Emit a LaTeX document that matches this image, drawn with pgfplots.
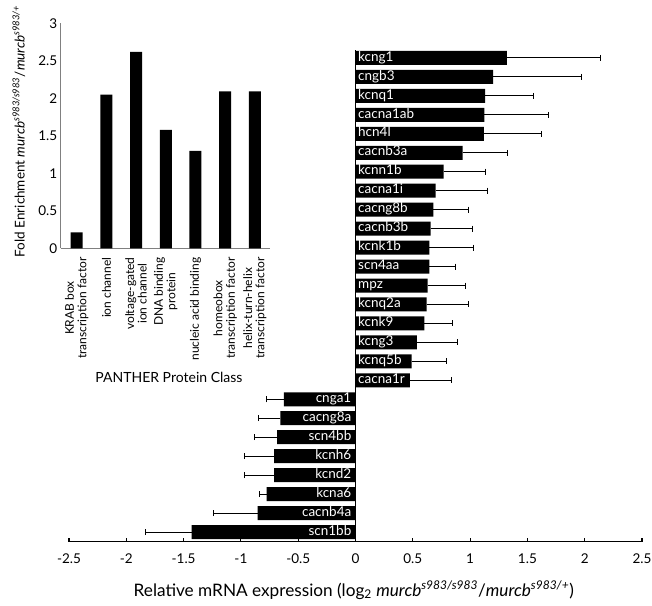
\documentclass[border=0pt]{standalone}
\usepackage{pgfplots}
\pgfplotsset{compat=1.18}
\usepackage{pgfplotstable}
\usepackage{fontspec}
\setmainfont{Lato}

\pgfplotstableread{
y val err name
26 1.32 0.82 kcng1
25 1.20 0.77 cngb3
24 1.13 0.42 kcnq1
23 1.125 0.555 cacna1ab
22 1.12 0.50 hcn4l
21 0.935 0.395 cacnb3a
20 0.77 0.365 kcnn1b
19 0.70 0.45 cacna1i
18 0.68 0.31 cacng8b
17 0.655 0.365 cacnb3b
16 0.645 0.385 kcnk1b
15 0.645 0.225 scn4aa
14 0.63 0.33 mpz
13 0.62 0.37 kcnq2a
12 0.60 0.25 kcnk9
11 0.535 0.355 kcng3
10 0.49 0.30 kcnq5b
9 0.475 0.365 cacna1r
}\pos

\pgfplotstableread{
y val err name
8 -0.625 0.155 cnga1
7 -0.655 0.195 cacng8a
6 -0.685 0.20 scn4bb
5 -0.71 0.255 kcnh6
4 -0.71 0.26 kcnd2
3 -0.775 0.06 kcna6
2 -0.855 0.385 cacnb4a
1 -1.43 0.40 scn1bb
}\negt

\begin{document}
\begin{tikzpicture}
\begin{axis}[
  at={(0pt,0pt)}, anchor=south west,
  scale only axis, width=573pt, height=491.5pt,
  xmin=-2.5, xmax=2.5, ymin=0.5, ymax=26.42,
  axis x line*=bottom, axis y line=none,
  axis line style={-, line width=1.1pt},
  xtick={-2.5,-2,-1.5,-1,-0.5,0,0.5,1,1.5,2,2.5},
  xtick align=inside, major tick length=4pt,
  tick style={line width=1.1pt, black},
  /pgf/number format/assume math mode=true,
  xticklabel style={font=\fontsize{13.5}{16}\selectfont, anchor=base, yshift=-22pt},
  ytick=\empty,
  clip=false,
  xlabel={Relative mRNA expression (log\textsubscript{2} \textit{murcb}\textsuperscript{\textit{s983/s983}}/\textit{murcb}\textsuperscript{\textit{s983/+}})},
  xlabel style={font=\fontsize{17.2}{20}\selectfont, at={(axis description cs:0.497,-0.099)}, anchor=center},
]
\draw[line width=1.1pt] (axis cs:0,0.5) -- (axis cs:0,26.42);
\addplot[xbar, bar width=14pt, bar shift=0pt, fill=black, draw=none,
  error bars/.cd, x dir=plus, x explicit,
  error bar style={line width=1pt, black}, error mark options={rotate=90, mark size=3pt, line width=1pt}]
  table[x=val, y=y, x error=err] {\pos};
\addplot[xbar, bar width=14pt, bar shift=0pt, fill=black, draw=none,
  error bars/.cd, x dir=minus, x explicit,
  error bar style={line width=1pt, black}, error mark options={rotate=90, mark size=3pt, line width=1pt}]
  table[x=val, y=y, x error=err] {\negt};
\addplot[draw=none, mark=none, nodes near coords, point meta=explicit symbolic,
  nodes near coords style={anchor=west, text=white, inner sep=0pt, xshift=2.5pt,
    font=\fontsize{13.5}{15}\selectfont, text height=1.5ex, text depth=0.25ex}]
  table[x expr=0, y=y, meta=name] {\pos};
\addplot[draw=none, mark=none, nodes near coords, point meta=explicit symbolic,
  nodes near coords style={anchor=east, text=white, inner sep=0pt, xshift=-4pt,
    font=\fontsize{13.5}{15}\selectfont, text height=1.5ex, text depth=0.25ex}]
  table[x expr=0, y=y, meta=name] {\negt};
\end{axis}

\begin{axis}[
  at={(-8.3pt,293.2pt)}, anchor=south west,
  scale only axis, width=209pt, height=225pt,
  xmin=-0.54, xmax=6.5, ymin=0, ymax=3,
  axis x line*=bottom, axis y line*=left,
  axis line style={-, gray, line width=0.9pt},
  major tick length=0pt,
  ytick={0,0.5,1,1.5,2,2.5,3},
  /pgf/number format/assume math mode=true,
  yticklabel style={font=\fontsize{13.5}{15}\selectfont},
  xtick={0,1,2,3,4,5,6},
  xticklabels={{KRAB box\\transcription factor},{ion channel},{voltage-gated\\ion channel},{DNA binding\\protein},{nucleic acid binding},{homeobox\\transcription factor},{helix-turn-helix\\transcription factor}},
  xticklabel style={rotate=90, anchor=east, align=center, inner sep=0pt, xshift=-9pt,
    font=\fontsize{12}{12.5}\selectfont},
  clip=false,
  ylabel={Fold Enrichment \textit{murcb}\textsuperscript{\textit{s983/s983}}/\textit{murcb}\textsuperscript{\textit{s983/+}}},
  ylabel style={font=\fontsize{13.5}{15}\selectfont, at={(axis description cs:-0.2,0.52)}, anchor=center, rotate=0},
  xlabel={PANTHER Protein Class},
  xlabel style={font=\fontsize{14}{16}\selectfont, at={(axis description cs:0.518,-0.572)}, anchor=center},
]
\addplot[ybar, bar width=12pt, bar shift=0pt, fill=black, draw=none]
  coordinates {(0,0.213) (1,2.048) (2,2.62) (3,1.578) (4,1.30) (5,2.093) (6,2.093)};
\end{axis}
\pgfresetboundingbox
\path (-69pt,-63.5pt) rectangle (583pt,541.5pt);
\end{tikzpicture}
\end{document}
